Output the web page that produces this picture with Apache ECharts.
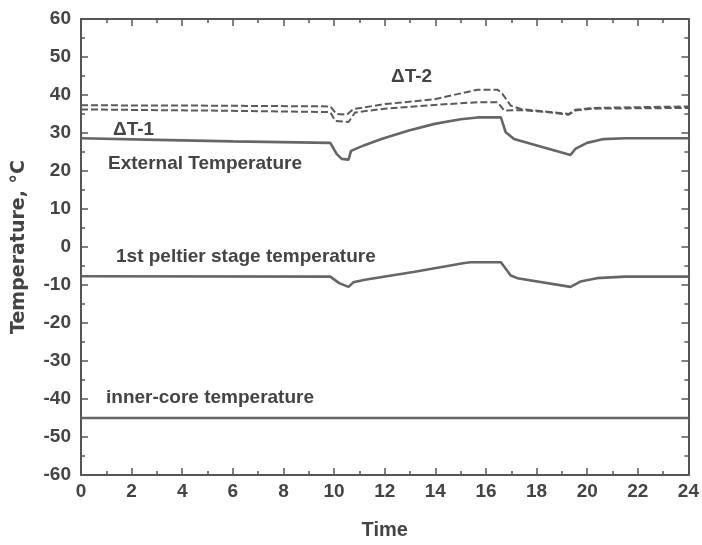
<!DOCTYPE html>
<html><head><meta charset="utf-8">
<script src="https://cdn.jsdelivr.net/npm/echarts@6/dist/echarts.min.js"></script>
<style>html,body{margin:0;padding:0;background:#fff}#c{width:702px;height:545px}</style>
</head><body><div id="c"></div>
<script>
const externalT = [[0,28.6],[3,28.2],[6,27.8],[9.85,27.4],[10.1,24.5],[10.3,23.2],[10.57,23.0],[10.67,25.3],[11.2,26.8],[11.87,28.4],[12.92,30.6],[13.97,32.4],[15.0,33.6],[15.67,34.1],[16.59,34.1],[16.78,30.2],[17.11,28.4],[18.29,26.2],[19.34,24.2],[19.53,25.8],[19.99,27.4],[20.65,28.4],[21.5,28.6],[24,28.6]];
const deltaT2 = [[0,37.3],[5,37.2],[9.85,37.0],[10.09,35.0],[10.5,34.8],[10.76,36.3],[12,37.6],[13.97,38.9],[15.67,41.4],[16.46,41.4],[16.65,40.3],[16.98,37.2],[17.37,36.3],[18.3,35.7],[19.27,35.0],[19.53,36.1],[20.2,36.6],[24,37.0]];
const deltaT1 = [[0,36.2],[5,35.9],[9.85,35.5],[10.04,33.2],[10.57,32.9],[10.83,35.4],[12,36.4],[13.97,37.4],[15.67,38.1],[16.46,38.1],[16.72,35.9],[17.37,36.0],[18.3,35.6],[19.27,34.8],[19.53,35.9],[20.2,36.4],[24,36.6]];
const peltierT = [[0,-7.7],[9.85,-7.8],[10.2,-9.5],[10.57,-10.5],[10.76,-9.3],[11.22,-8.6],[13.19,-6.5],[15.15,-4.2],[15.4,-4.0],[16.59,-4.0],[16.98,-7.5],[17.24,-8.2],[19.34,-10.5],[19.73,-9.1],[20.38,-8.2],[21.5,-7.8],[24,-7.8]];
const innerCoreT = [[0,-45],[24,-45]];
const annotations = [
  {text:'\u0394T-2', x:391, y:77},
  {text:'\u0394T-1', x:113, y:130},
  {text:'External Temperature', x:108, y:164},
  {text:'1st peltier stage temperature', x:116, y:257},
  {text:'inner-core temperature', x:106, y:398}
];
const FONT = '"Liberation Sans", Arial, sans-serif';
const TXT = '#444';
const AX = '#555';
const LC = '#666';
const chart = echarts.init(document.getElementById('c'));
const axisCommon = {
  axisLine:{show:true, onZero:false, lineStyle:{color:AX, width:2}},
  axisTick:{show:true, inside:true, length:7, lineStyle:{color:AX, width:1.5}},
  minorTick:{show:true, splitNumber:2, length:4, lineStyle:{color:AX, width:1.5}},
  splitLine:{show:false}
};
function line(name, data, dashed){
  return {type:'line', name, data, showSymbol:false, symbol:'none', smooth:false,
    lineStyle:{color: dashed ? '#5a5a5a' : LC, width: dashed?2:2.6, type: dashed?[7,3]:'solid'}, z: 3};
}
chart.setOption({
  backgroundColor:'#fff',
  animation:false,
  grid:{left:81, right:10, top:19, bottom:68},
  xAxis:[
    Object.assign({type:'value', min:0, max:24, interval:2, position:'bottom',
      name:'Time', nameLocation:'middle', nameGap:45,
      nameTextStyle:{fontFamily:FONT, fontWeight:'bold', fontSize:20, color:TXT},
      axisLabel:{fontFamily:FONT, fontWeight:'bold', fontSize:19, color:TXT, margin:7}}, axisCommon),
    Object.assign({type:'value', min:0, max:24, interval:2, position:'top',
      axisLabel:{show:false}}, axisCommon)
  ],
  yAxis:[
    Object.assign({type:'value', min:-60, max:60, interval:10, position:'left',
      name:'Temperature, \u00B0C', nameLocation:'middle', nameGap:52,
      nameTextStyle:{fontFamily:'"DejaVu Sans", sans-serif', fontWeight:'bold', fontSize:19, color:TXT},
      axisLabel:{fontFamily:FONT, fontWeight:'bold', fontSize:19, color:TXT, margin:10}}, axisCommon),
    Object.assign({type:'value', min:-60, max:60, interval:10, position:'right',
      axisLabel:{show:false}}, axisCommon)
  ],
  series:[
    line('\u0394T-2', deltaT2, true),
    line('\u0394T-1', deltaT1, true),
    line('External Temperature', externalT, false),
    line('1st peltier stage temperature', peltierT, false),
    line('inner-core temperature', innerCoreT, false)
  ],
  graphic: annotations.map(a => ({type:'text', x:a.x, y:a.y,
    style:{text:a.text, fontFamily:FONT, fontWeight:'bold', fontSize:19, fill:TXT, verticalAlign:'middle', align:'left'}}))
});
</script></body></html>
